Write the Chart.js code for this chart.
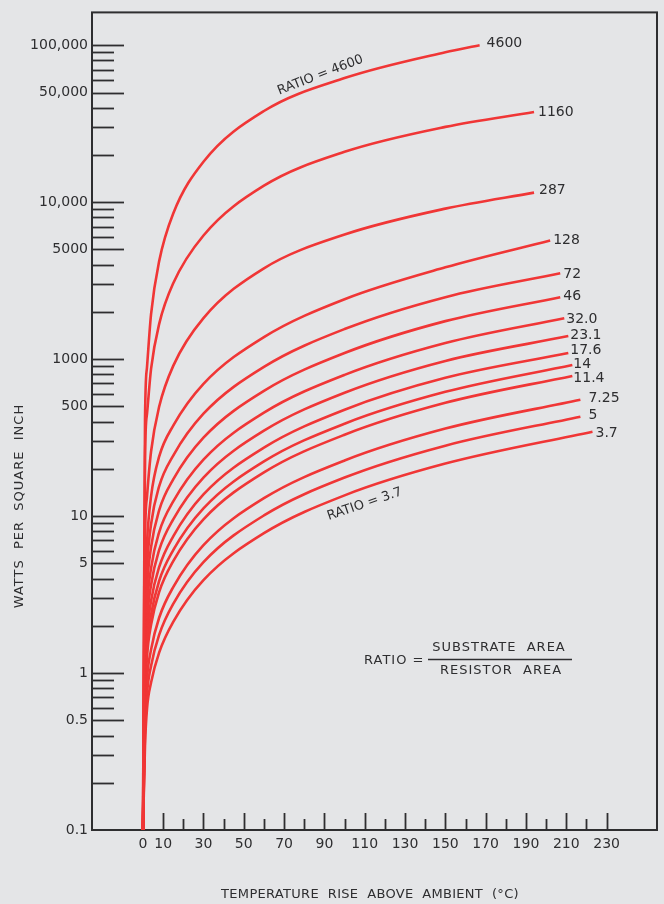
<!DOCTYPE html>
<html>
<head>
<meta charset="utf-8">
<script src="https://cdn.jsdelivr.net/npm/chart.js@4.4.1/dist/chart.umd.min.js"></script>
<style>
  html, body { margin: 0; padding: 0; background: #e4e5e7; }
  #wrap { width: 664px; height: 904px; }
</style>
</head>
<body>
<div id="wrap"><canvas id="heatChart" width="664" height="904"></canvas></div>
<script>
// temperature rise (deg C) where each curve was read, plus each curve's own end point
const temps = [0, 1, 2, 4, 8, 15, 30, 60, 100, 150];
const ratioLabels = ['4600', '1160', '287', '128', '72', '46', '32.0', '23.1', '17.6', '14', '11.4', '7.25', '5', '3.7'];
const endTemps = [167, 194, 194, 202, 207, 207, 209, 211, 211, 213, 213, 217, 217, 223];

// watts per sq inch in axis units (the printed scale skips the 100 decade,
// so the lower labels read 10x smaller than these numbers)
const w4600 = [1, 411, 893, 1936, 4198, 8472, 18110, 38110, 61800, 90300, 100000];
const w1160 = [1, 233, 449, 867, 1672, 3043, 6138, 12740, 20940, 30190, 37580];
const w287 = [1, 69.2, 133.6, 258, 497, 906, 1825, 3793, 6223, 9100, 11510];
const w128 = [1, 30.1, 68.2, 133.6, 239, 377, 696, 1383, 2410, 3846, 5702];
const w72 = [1, 21.5, 47.3, 88.7, 154.5, 243, 449, 893, 1555, 2483, 3524];
const w46 = [1, 16.5, 35.3, 63.4, 108.9, 171.4, 316, 628, 1094, 1747, 2483];
const w32 = [1, 13.1, 26.8, 46.6, 78.9, 124, 229, 456, 794, 1267, 1825];
const w23 = [1, 10.7, 21.5, 36.4, 60.7, 95.4, 176, 350, 611, 974, 1403];
const w17 = [1, 8.95, 17.3, 28.8, 47.3, 74.4, 137.5, 273, 476, 760, 1094];
const w14 = [1, 7.62, 14.5, 23.5, 38.6, 60.7, 112, 223, 388, 619, 919];
const w11 = [1, 6.78, 12.7, 20.3, 32.8, 51.7, 95.4, 190, 330, 527, 782];
const w7 = [1, 5.06, 9.21, 14.1, 22.5, 35.3, 65.3, 130, 226, 361, 551];
const w5 = [1, 4.25, 7.4, 11.1, 17.5, 27.6, 50.9, 101, 176, 281, 430];
const w3 = [1, 3.46, 5.94, 8.69, 13.5, 21.2, 39.1, 77.8, 135.5, 216, 345];
const curves = [w4600, w1160, w287, w128, w72, w46, w32, w23, w17, w14, w11, w7, w5, w3];

const yTickValues = [1, 5, 10, 50, 100, 500, 1000, 5000, 10000, 50000, 100000];
const yTickLabels = ['0.1', '0.5', '1', '5', '10', '500', '1000', '5000', '10,000', '50,000', '100,000'];
const xTickValues = [0, 10, 30, 50, 70, 90, 110, 130, 150, 170, 190, 210, 230];

// nudges for the end labels so the crowded ones don't collide
const labelShift = [[7, -2], [4, 0], [5, -2], [3, 0], [3, 1], [3, -1], [2, 1], [2, -1], [2, -3], [1, -1], [1, 2], [8, -1], [8, -1], [3, 2]];

const ink = '#2e2e30';
const red = '#f03636';
const font = 'DejaVu Sans';

const decorations = {
  id: 'decorations',
  beforeDraw(chart) {
    const ctx = chart.ctx;
    ctx.save();
    ctx.fillStyle = '#e4e5e7';
    ctx.fillRect(0, 0, chart.width, chart.height);
    ctx.restore();
  },
  beforeDatasetsDraw(chart) {
    const { ctx, chartArea: a, scales: { x, y } } = chart;
    ctx.save();
    ctx.strokeStyle = ink;
    // frame
    ctx.lineWidth = 2;
    ctx.strokeRect(a.left, a.top, a.right - a.left, a.bottom - a.top);
    // y ticks point into the plot
    ctx.lineWidth = 1.8;
    for (let base = 1; base <= 100000; base *= 10) {
      [1, 2, 3, 4, 5, 6, 7, 8, 9].forEach(m => {
        const v = base * m;
        if (v === 1 || v > 100000) return;
        const len = (m === 1 || m === 5) ? 32 : 22;
        const py = Math.round(y.getPixelForValue(v)) + 0.5;
        ctx.beginPath();
        ctx.moveTo(a.left, py);
        ctx.lineTo(a.left + len, py);
        ctx.stroke();
      });
    }
    // x ticks point up
    for (let t = 0; t <= 230; t += 10) {
      const len = (t % 20 === 10) ? 17 : 11;
      const px = Math.round(x.getPixelForValue(t)) + 0.5;
      ctx.beginPath();
      ctx.moveTo(px, a.bottom);
      ctx.lineTo(px, a.bottom - len);
      ctx.stroke();
    }
    ctx.restore();
  },
  afterDatasetsDraw(chart) {
    const { ctx, scales: { x, y } } = chart;
    ctx.save();
    ctx.fillStyle = ink;
    ctx.strokeStyle = ink;

    // ratio labels at the end of each curve
    ctx.font = '14px "' + font + '"';
    ctx.textAlign = 'left';
    ctx.textBaseline = 'middle';
    chart.data.datasets.forEach((ds, i) => {
      const pts = chart.getDatasetMeta(i).data;
      const last = pts[pts.length - 1];
      ctx.fillText(ratioLabels[i], last.x + labelShift[i][0], last.y + labelShift[i][1]);
    });

    // slanted notes along the outer curves
    ctx.font = '13px "' + font + '"';
    ctx.textAlign = 'center';
    ctx.save();
    ctx.translate(x.getPixelForValue(88), y.getPixelForValue(64500));
    ctx.rotate(-0.37);
    ctx.fillText('RATIO = 4600', 0, 0);
    ctx.restore();
    ctx.save();
    ctx.translate(x.getPixelForValue(110), y.getPixelForValue(119));
    ctx.rotate(-0.33);
    ctx.fillText('RATIO = 3.7', 0, 0);
    ctx.restore();

    // ratio definition
    ctx.font = '13px "' + font + '"';
    ctx.letterSpacing = '1px';
    ctx.textAlign = 'left';
    ctx.fillText('RATIO =', 364, 661);
    ctx.textAlign = 'center';
    ctx.fillText('SUBSTRATE  AREA', 499, 648);
    ctx.fillText('RESISTOR  AREA', 501, 671);
    ctx.lineWidth = 1.5;
    ctx.beginPath();
    ctx.moveTo(428, 659.5);
    ctx.lineTo(572, 659.5);
    ctx.stroke();

    // axis titles
    ctx.font = '13px "' + font + '"';
    ctx.letterSpacing = '0.3px';
    ctx.fillText('TEMPERATURE  RISE  ABOVE  AMBIENT  (°C)', 370, 895);
    ctx.save();
    ctx.translate(20, 506);
    ctx.rotate(-Math.PI / 2);
    ctx.letterSpacing = '1px';
    ctx.fillText('WATTS  PER  SQUARE  INCH', 0, 0);
    ctx.restore();
    ctx.restore();
  }
};

const ctx = document.getElementById('heatChart').getContext('2d');

new Chart(ctx, {
  type: 'line',
  data: {
    datasets: curves.map((vals, i) => ({
      label: 'RATIO = ' + ratioLabels[i],
      data: temps.concat([endTemps[i]]).map((t, j) => ({ x: t, y: vals[j] })),
      borderColor: red,
      borderWidth: 2.6,
      pointRadius: 0,
      fill: false,
      cubicInterpolationMode: 'monotone'
    }))
  },
  options: {
    responsive: false,
    animation: false,
    layout: { padding: { top: 9, right: 7, left: 0, bottom: 0 } },
    plugins: {
      legend: { display: false },
      tooltip: { enabled: false }
    },
    scales: {
      x: {
        type: 'linear',
        min: -25.3,
        max: 255,
        afterFit: s => { s.height = 74; },
        afterBuildTicks: s => { s.ticks = xTickValues.map(v => ({ value: v })); },
        grid: { display: false, drawTicks: false },
        border: { display: false },
        ticks: {
          autoSkip: false,
          maxRotation: 0,
          padding: 6,
          color: ink,
          font: { family: font, size: 14 },
          callback: v => String(v)
        }
      },
      y: {
        type: 'logarithmic',
        min: 1,
        max: 161950,
        afterFit: s => { s.width = 92; },
        afterBuildTicks: s => { s.ticks = yTickValues.map(v => ({ value: v })); },
        grid: { display: false, drawTicks: false },
        border: { display: false },
        ticks: {
          autoSkip: false,
          padding: 4,
          color: ink,
          font: { family: font, size: 14 },
          callback: (v, i) => yTickLabels[i]
        }
      }
    }
  },
  plugins: [decorations]
});
</script>
</body>
</html>
